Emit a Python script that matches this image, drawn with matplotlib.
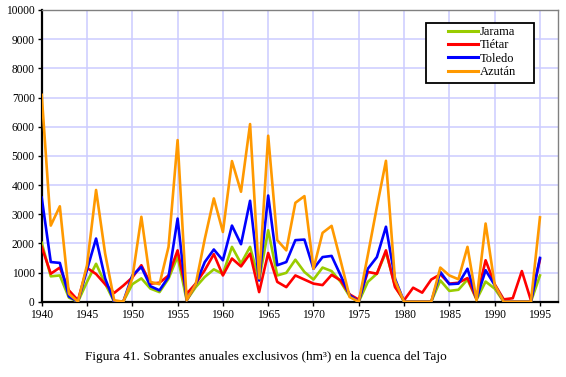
import matplotlib.pyplot as plt
from matplotlib.patches import Rectangle

# Sobrantes anuales exclusivos (hm3), 1940-1995
years = list(range(1940, 1996))

jarama = [2020, 870, 900, 140, 0, 680, 1300, 620, 0, 0,
          600, 800, 450, 330, 790, 1550, 50, 500, 850, 1110,
          950, 1880, 1310, 1880, 730, 2450, 900, 990, 1440, 1020,
          760, 1170, 1050, 680, 180, 0, 680, 960, 1700, 550,
          0, 0, 0, 0, 730, 370, 410, 760, 70, 690,
          450, 0, 0, 0, 0, 900]

tietar = [1880, 960, 1170, 390, 50, 1160, 950, 600, 300, 550,
          830, 1250, 620, 650, 900, 1760, 270, 620, 1080, 1630,
          900, 1480, 1210, 1650, 330, 1670, 680, 500, 900, 760,
          620, 570, 920, 730, 250, 70, 1020, 960, 1760, 500,
          50, 480, 310, 760, 940, 620, 650, 810, 100, 1420,
          600, 80, 120, 1050, 50, 1450]

toledo = [3570, 1360, 1330, 180, 0, 1100, 2165, 800, 0, 0,
          900, 1190, 530, 390, 850, 2850, 50, 600, 1360, 1790,
          1420, 2610, 1970, 3460, 730, 3640, 1250, 1360, 2110, 2130,
          1130, 1530, 1570, 900, 220, 0, 1130, 1530, 2570, 790,
          0, 0, 0, 0, 1020, 600, 620, 1130, 100, 1080,
          570, 0, 0, 0, 0, 1500]

azutan = [7090, 2610, 3270, 270, 0, 1250, 3830, 1650, 50, 0,
          800, 2910, 680, 600, 1880, 5540, 50, 600, 2150, 3540,
          2390, 4820, 3770, 6090, 800, 5690, 2110, 1760, 3390, 3620,
          1130, 2360, 2600, 1400, 160, 0, 1600, 3250, 4830, 730,
          0, 0, 0, 0, 1170, 900, 770, 1880, 50, 2680,
          580, 0, 0, 0, 0, 2890]

names = ['Jarama', 'Tiétar', 'Toledo', 'Azután']
colors = ['#99CC00', '#FF0000', '#0000FF', '#FF9900']

plt.rcParams['font.family'] = ['Liberation Serif', 'DejaVu Serif']

fig = plt.figure(figsize=(5.66, 3.77), dpi=100)
ax = fig.add_axes([0.0737, 0.1997, 0.9123, 0.7738])

for vals, name, c in zip([jarama, tietar, toledo, azutan], names, colors):
    ax.plot(years, vals, color=c, lw=1.9, label=name, zorder=3)

ax.set_xlim(1940, 1997)
ax.set_ylim(0, 10000)
ax.set_xticks(range(1940, 1996, 5))
ax.set_yticks(range(0, 10001, 1000))
ax.grid(True, color='#CCCCFF', lw=1.1)
ax.set_axisbelow(True)
ax.tick_params(labelsize=8.3, length=3, width=1, direction='out', pad=2)

for s in ['left', 'bottom']:
    ax.spines[s].set_linewidth(1.6)
    ax.spines[s].set_color('black')
for s in ['top', 'right']:
    ax.spines[s].set_linewidth(1)
    ax.spines[s].set_color('#808080')

# legend box drawn separately (wider than its contents, as in the original)
ax.add_patch(Rectangle((0.7443, 0.7508), 0.2092, 0.2057, transform=ax.transAxes,
                       facecolor='white', edgecolor='black', lw=1.3, zorder=5))
leg = ax.legend(loc='upper left', bbox_to_anchor=(0.775, 0.966),
                fontsize=9, handlelength=2.4, handletextpad=0.1,
                labelspacing=0.1, borderpad=0, frameon=False)
for line in leg.get_lines():
    line.set_linewidth(2.2)
leg.set_zorder(6)

fig.text(0.47, 0.053, 'Figura 41. Sobrantes anuales exclusivos (hm³) en la cuenca del Tajo',
         ha='center', va='center', fontsize=9.5)

fig.savefig('out.png', dpi=100)
